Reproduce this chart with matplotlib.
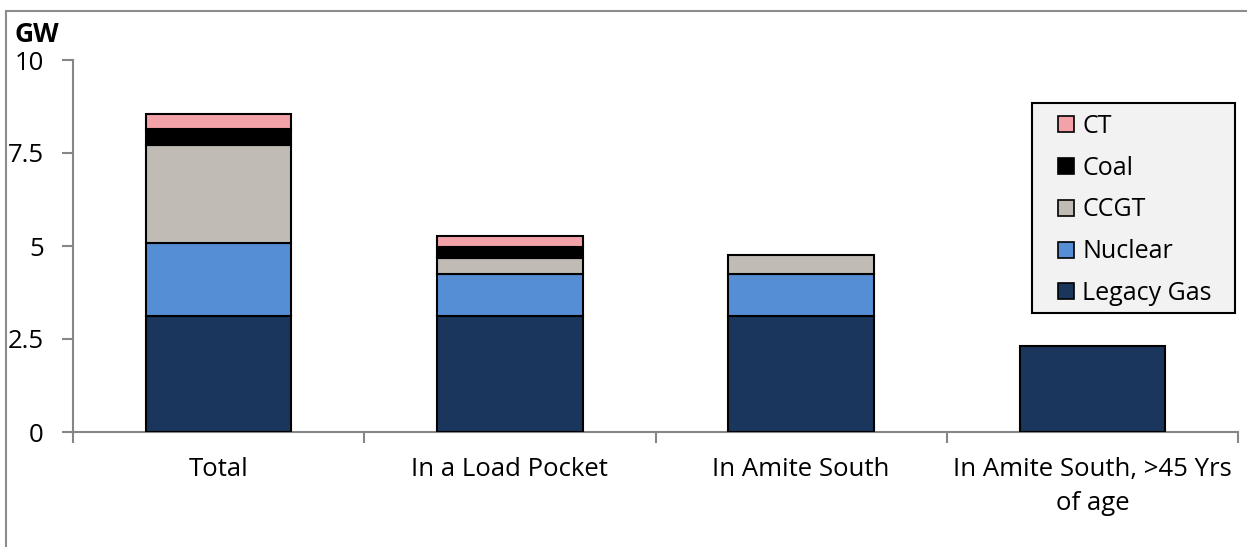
import matplotlib
matplotlib.use("Agg")
import matplotlib.pyplot as plt
from matplotlib.patches import Rectangle
from matplotlib.lines import Line2D
import numpy as np

plt.rcParams['font.family'] = ['Open Sans', 'DejaVu Sans']

categories = ["Total", "In a Load Pocket", "In Amite South", "In Amite South, >45 Yrs\nof age"]
legacy_gas = [3.12, 3.12, 3.12, 2.31]
nuclear = [1.97, 1.14, 1.14, 0.0]
ccgt = [2.62, 0.43, 0.49, 0.0]
coal = [0.43, 0.28, 0.0, 0.0]
ct = [0.41, 0.31, 0.0, 0.0]

series = [
    ("Legacy Gas", legacy_gas, "#1a365d"),
    ("Nuclear", nuclear, "#558ed5"),
    ("CCGT", ccgt, "#c0bcb5"),
    ("Coal", coal, "#000000"),
    ("CT", ct, "#f2a2a8"),
]

W, H = 1247, 547
fig = plt.figure(figsize=(W / 100, H / 100), dpi=100)
ax = fig.add_axes([73 / W, 1 - 432 / H, (1238 - 73) / W, (432 - 60) / H])

x = np.arange(len(categories))
bottom = np.zeros(len(categories))
handles = {}
for name, vals, color in series:
    vals = np.array(vals)
    mask = vals > 0
    ax.bar(x[mask], vals[mask], bottom=bottom[mask], width=0.5, color=color,
           edgecolor="black", linewidth=1.5, zorder=3)
    handles[name] = Line2D([], [], linestyle="none", marker="s", markersize=12,
                           markerfacecolor=color, markeredgecolor="black", markeredgewidth=1.2)
    bottom += vals

ax.set_xlim(-0.5, len(categories) - 0.5)
ax.set_ylim(0, 10)
ax.set_yticks([0, 2.5, 5, 7.5, 10])
ax.set_yticklabels(["0", "2.5", "5", "7.5", "10"])
ax.set_xticks(x)
ax.set_xticklabels(categories, linespacing=1.5)
ax.set_xticks(np.arange(-0.5, len(categories), 1.0), minor=True)
ax.tick_params(axis="x", which="major", length=0, pad=18, labelsize=18.5)
ax.tick_params(axis="x", which="minor", length=8, width=1.5, color="#868686", direction="out")
ax.tick_params(axis="y", length=8, width=1.5, color="#868686", pad=13, labelsize=18.5)

for side in ["top", "right"]:
    ax.spines[side].set_visible(False)
for side in ["left", "bottom"]:
    ax.spines[side].set_color("#868686")
    ax.spines[side].set_linewidth(1.5)

fig.text(15 / W, 1 - 34 / H, "GW", fontsize=19, fontweight="bold", va="center", ha="left")

# legend panel with its own box
ax.add_patch(Rectangle((1032 / W, 1 - 313 / H), (1235 - 1032) / W, (313 - 103) / H,
                       transform=fig.transFigure, facecolor="#f2f2f2", edgecolor="black",
                       linewidth=1.5, zorder=4, clip_on=False))
order = ["CT", "Coal", "CCGT", "Nuclear", "Legacy Gas"]
leg = ax.legend([handles[n] for n in order], order, loc="upper left",
                bbox_to_anchor=(1041 / W, 1 - 114 / H), bbox_transform=fig.transFigure,
                fontsize=18, frameon=False, handlelength=2.0, handletextpad=-0.35,
                labelspacing=0.67, borderpad=0, borderaxespad=0)
leg.set_zorder(5)

fig.patches.append(Rectangle((6 / W, -0.1), 1.2, (1 - 11 / H) + 0.1, transform=fig.transFigure,
                             fill=False, edgecolor="#8c8c8c", linewidth=1.5))

fig.savefig("out.png", dpi=100)
